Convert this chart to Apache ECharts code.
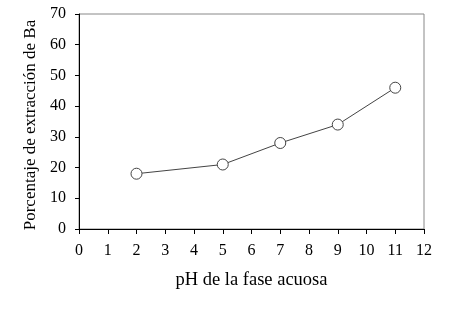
<!DOCTYPE html>
<html><head><meta charset="utf-8">
<script src="https://cdn.jsdelivr.net/npm/echarts@6/dist/echarts.min.js"></script>
<style>html,body{margin:0;padding:0;background:#fff}#c{width:452px;height:309px}</style>
</head><body><div id="c"></div>
<script>
const phValues = [2, 5, 7, 9, 11];
const extraction = [18, 21, 28, 34, 46];
const xTitle = 'pH de la fase acuosa';
const yTitle = 'Porcentaje de extracción de Ba';
const font = 'Liberation Serif, Times New Roman, serif';
const chart = echarts.init(document.getElementById('c'), null, {renderer: 'canvas'});
chart.setOption({
  animation: false,
  backgroundColor: '#fff',
  grid: {left: 79, right: 28, top: 14, bottom: 80, show: true, borderColor: '#888', borderWidth: 1},
  xAxis: {
    type: 'value', min: 0, max: 12, interval: 1,
    name: xTitle, nameLocation: 'middle', nameGap: 42,
    nameTextStyle: {fontFamily: font, fontSize: 18.5, color: '#000'},
    axisLine: {lineStyle: {color: '#000', width: 1}},
    axisTick: {show: true, length: 5, inside: false, lineStyle: {color: '#000'}},
    axisLabel: {fontFamily: font, fontSize: 16, color: '#000', margin: 14},
    splitLine: {show: false}
  },
  yAxis: {
    type: 'value', min: 0, max: 70, interval: 10,
    name: yTitle, nameLocation: 'middle', nameGap: 36,
    nameTextStyle: {fontFamily: font, fontSize: 17, color: '#000', padding: [0, 7, 0, 0]},
    axisLine: {show: true, lineStyle: {color: '#000', width: 1}},
    axisTick: {show: true, length: 4, lineStyle: {color: '#000'}},
    axisLabel: {fontFamily: font, fontSize: 16, color: '#000', margin: 13},
    splitLine: {show: false}
  },
  series: [{
    type: 'line',
    data: phValues.map((x, i) => [x, extraction[i]]),
    symbol: 'circle', symbolSize: 11,
    lineStyle: {color: '#444', width: 1},
    itemStyle: {color: '#fff', borderColor: '#444', borderWidth: 1},
    z: 5
  }]
});
</script></body></html>
